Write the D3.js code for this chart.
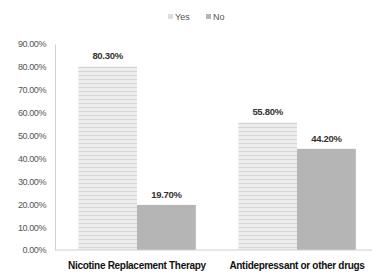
<!DOCTYPE html>
<html>
<head>
<meta charset="utf-8">
<script src="https://cdn.jsdelivr.net/npm/d3@7/dist/d3.min.js"></script>
<style>
  body { margin: 0; background: #fff; }
  text { font-family: "Liberation Sans Narrow", "Liberation Sans", Arial, sans-serif; }
</style>
</head>
<body>
<div id="chart"></div>
<script>
const width = 372, height = 275;

// data
const categories = ["Nicotine Replacement Therapy", "Antidepressant or other drugs"];
const seriesNames = ["Yes", "No"];
const yesValues = [80.3, 55.8];
const noValues = [19.7, 44.2];
const yTicks = [0, 10, 20, 30, 40, 50, 60, 70, 80, 90];

const margin = { left: 57, right: -5, top: 44, bottom: 25 };

let svg = d3.select('#chart')
    .append('svg')
      .attr('width', width)
      .attr('height', height);

// striped fill for the "Yes" bars
let defs = svg.append('defs');
let pat = defs.append('pattern')
    .attr('id', 'stripes')
    .attr('patternUnits', 'userSpaceOnUse')
    .attr('width', 6).attr('height', 4);
pat.append('rect').attr('width', 6).attr('height', 4).attr('fill', '#ededed');
pat.append('rect').attr('y', 3).attr('width', 6).attr('height', 1).attr('fill', '#d6d6d6');

const x = d3.scaleBand()
    .domain(categories)
    .range([margin.left, width - margin.right])
    .paddingInner(0)
    .paddingOuter(0);

const xs = d3.scaleBand()
    .domain(seriesNames)
    .range([0, x.bandwidth()])
    .paddingOuter(0.36)
    .paddingInner(0);

const y = d3.scaleLinear()
    .domain([0, 90])
    .range([height - margin.bottom, margin.top]);

const fills = { Yes: 'url(#stripes)', No: '#b5b5b5' };

// y axis
let yAxis = svg.append('g')
    .attr('transform', `translate(${margin.left - 2},0)`)
    .call(d3.axisLeft(y).tickValues(yTicks).tickSize(0).tickPadding(9)
        .tickFormat(d => d3.format('.2f')(d) + '%'));
yAxis.select('.domain').attr('stroke', '#d0d0d0');
yAxis.selectAll('text').attr('font-size', 9).attr('fill', '#555').attr('letter-spacing', -0.4);

// bars
const rows = categories.map((c, i) => ({ cat: c, vals: [
    { s: 'Yes', v: yesValues[i] }, { s: 'No', v: noValues[i] }] }));

let groups = svg.selectAll('g.cat')
    .data(rows)
    .enter()
    .append('g')
      .attr('class', 'cat')
      .attr('transform', d => `translate(${x(d.cat)},0)`);

groups.selectAll('rect')
    .data(d => d.vals)
    .enter()
    .append('rect')
      .attr('x', d => xs(d.s))
      .attr('width', xs.bandwidth())
      .attr('y', d => y(d.v))
      .attr('height', d => y(0) - y(d.v))
      .attr('fill', d => fills[d.s]);

groups.selectAll('text.val')
    .data(d => d.vals)
    .enter()
    .append('text')
      .attr('class', 'val')
      .attr('x', d => xs(d.s) + xs.bandwidth() / 2)
      .attr('y', d => y(d.v) - 7)
      .attr('text-anchor', 'middle')
      .attr('font-size', 9.5)
      .attr('font-weight', 'bold')
      .attr('fill', '#333')
      .attr('letter-spacing', -0.3)
      .text(d => d.v.toFixed(2) + '%');

// baseline
svg.append('line')
    .attr('x1', margin.left - 2).attr('x2', width)
    .attr('y1', y(0)).attr('y2', y(0))
    .attr('stroke', '#d0d0d0');

// category labels
svg.selectAll('text.cat')
    .data(categories)
    .enter()
    .append('text')
      .attr('class', 'cat')
      .attr('x', d => x(d) + x.bandwidth() / 2)
      .attr('y', height - 6)
      .attr('text-anchor', 'middle')
      .attr('font-size', 10)
      .attr('font-weight', 'bold')
      .attr('fill', '#111')
      .attr('letter-spacing', -0.3)
      .text(d => d);

// legend
let legend = svg.append('g').attr('transform', 'translate(168,17)');
const legX = [0, 38];
seriesNames.forEach((s, i) => {
    legend.append('rect')
        .attr('x', legX[i]).attr('y', -3)
        .attr('width', 5).attr('height', 5)
        .attr('fill', s === 'Yes' ? '#dedede' : '#b5b5b5');
    legend.append('text')
        .attr('x', legX[i] + 7).attr('y', 3)
        .attr('font-size', 9)
        .attr('fill', '#555')
        .text(s);
});
</script>
</body>
</html>
